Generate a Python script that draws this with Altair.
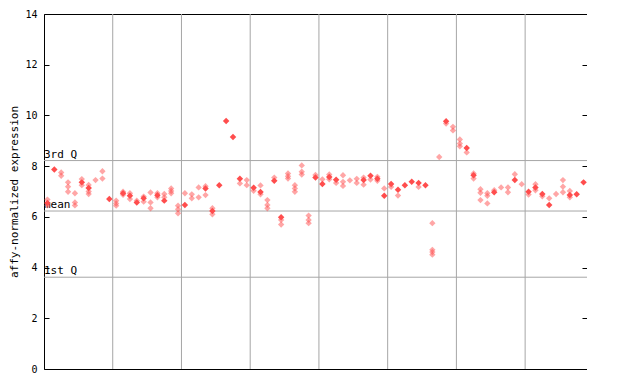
import altair as alt
import pandas as pd

# sample index (0..78) and value of the main (solid) probe
filled_index = [0, 1, 5, 6, 9, 11, 12, 13, 14, 16, 17, 20, 23, 24, 25, 26, 27, 28, 30, 31,
                33, 34, 39, 40, 41, 42, 46, 47, 48, 49, 50, 51, 52, 53, 54, 55, 58, 61, 62,
                65, 68, 70, 71, 72, 73, 76, 77, 78]
filled_value = [6.55, 7.87, 7.36, 7.14, 6.70, 6.93, 6.83, 6.57, 6.73, 6.85, 6.64, 6.47, 7.12, 6.23,
                7.25, 9.78, 9.15, 7.50, 7.15, 6.98, 7.42, 5.98, 7.55, 7.30, 7.57, 7.46, 7.45,
                7.62, 7.50, 6.83, 7.30, 7.07, 7.25, 7.38, 7.34, 7.25, 9.77, 8.72, 7.64, 6.97,
                7.45, 6.99, 7.16, 6.90, 6.47, 6.86, 6.89, 7.36]

# other probes (hatched diamonds)
hatched_index = [0, 0, 2, 2, 3, 3, 3, 4, 4, 4, 5, 5, 6, 6, 6, 7, 8, 8, 10, 10, 10, 11, 11,
                 12, 12, 13, 14, 14, 15, 15, 15, 16, 16, 17, 17, 18, 18, 18, 19, 19, 19, 20,
                 21, 21, 22, 22, 23, 23, 24, 24, 28, 29, 29, 30, 31, 31, 32, 32, 32, 33, 34,
                 34, 35, 35, 35, 36, 36, 36, 37, 37, 37, 38, 38, 38, 39, 40, 41, 41, 42, 43,
                 43, 43, 44, 45, 45, 46, 46, 47, 48, 48, 49, 50, 51, 54, 56, 56, 56, 56, 57,
                 58, 59, 59, 60, 60, 60, 61, 62, 62, 63, 63, 63, 64, 64, 64, 65, 66, 67, 67,
                 68, 69, 70, 71, 71, 72, 73, 74, 75, 75, 75, 76, 76]
hatched_value = [6.68, 6.45, 7.75, 7.62, 7.36, 7.19, 6.99, 6.93, 6.57, 6.45, 7.49, 7.25, 7.26,
                 7.00, 6.90, 7.45, 7.80, 7.51, 6.64, 6.53, 6.44, 6.99, 6.87, 6.93, 6.70, 6.64,
                 6.80, 6.60, 6.96, 6.57, 6.34, 6.93, 6.77, 6.90, 6.77, 7.12, 7.02, 6.93, 6.44,
                 6.30, 6.14, 6.93, 6.89, 6.73, 7.16, 6.77, 7.21, 6.86, 6.34, 6.10, 7.32, 7.45,
                 7.25, 7.03, 7.24, 6.89, 6.66, 6.47, 6.34, 7.55, 5.88, 5.70, 7.71, 7.60, 7.51,
                 7.25, 7.12, 6.99, 8.03, 7.78, 7.67, 6.05, 5.88, 5.75, 7.65, 7.48, 7.67, 7.48,
                 7.34, 7.64, 7.38, 7.22, 7.44, 7.50, 7.34, 7.55, 7.27, 7.47, 7.58, 7.42, 7.12,
                 7.18, 6.84, 7.18, 5.75, 4.70, 4.61, 4.51, 8.36, 9.68, 9.55, 9.41, 9.05, 8.89,
                 8.78, 8.54, 7.71, 7.51, 7.09, 6.95, 6.66, 6.93, 6.83, 6.53, 7.05, 7.16, 7.16,
                 6.97, 7.68, 7.29, 6.88, 7.29, 7.05, 6.81, 6.73, 6.90, 7.45, 7.19, 6.97, 7.02,
                 6.77]

group_breaks = [9.5, 19.5, 29.5, 39.5, 49.5, 59.5, 69.5]
ref_names = ["3rd Q", "mean", "1st Q"]
ref_values = [8.22, 6.23, 3.62]
y_ticks = [0, 2, 4, 6, 8, 10, 12, 14]
n_samples = 79

df_f = pd.DataFrame({"i": filled_index, "v": filled_value})
df_h = pd.DataFrame({"i": hatched_index, "v": hatched_value})
df_g = pd.DataFrame({"b": group_breaks})
df_r = pd.DataFrame({"name": ref_names, "v": ref_values})

MONO = "DejaVu Sans Mono"
GRID = "#a6a6a6"
RED = "#ff4d4d"

x_scale = alt.Scale(domain=[-0.5, n_samples - 0.5], nice=False, zero=False)
y_scale = alt.Scale(domain=[0, 14], nice=False, zero=False)

left_axis = alt.Axis(values=y_ticks, orient="left", offset=-5, tickSize=5, domain=False,
                     grid=False, labelPadding=7, labelFont=MONO, labelFontSize=10,
                     labelColor="black", tickColor="black", title="affy-normalized expression",
                     titleFont=MONO, titleFontSize=11, titleFontWeight="normal",
                     titleColor="black", titlePadding=5)
right_axis = alt.Axis(values=y_ticks, orient="right", offset=-5, tickSize=5, domain=False,
                      grid=False, labels=False, tickColor="black", title=None)

grid = alt.Chart(df_g).mark_rule(color=GRID, strokeWidth=1).encode(
    x=alt.X("b:Q", scale=x_scale, axis=None))

refs = alt.Chart(df_r).mark_rule(color=GRID, strokeWidth=1).encode(
    y=alt.Y("v:Q", scale=y_scale, axis=None))

ref_text = alt.Chart(df_r).mark_text(align="left", baseline="bottom", dy=-1, font=MONO,
                                     fontSize=11, color="black").encode(
    x=alt.value(0), y=alt.Y("v:Q", scale=y_scale, axis=None), text="name:N")

hatched = alt.Chart(df_h).mark_point(shape="diamond", filled=True, size=40, color=RED,
                                      opacity=0.5).encode(
    x=alt.X("i:Q", scale=x_scale, axis=None),
    y=alt.Y("v:Q", scale=y_scale, axis=right_axis))

filled = alt.Chart(df_f).mark_point(shape="diamond", filled=True, size=42, color=RED,
                                     opacity=1).encode(
    x=alt.X("i:Q", scale=x_scale, axis=None),
    y=alt.Y("v:Q", scale=y_scale, axis=left_axis))

chart = alt.layer(grid, refs, ref_text, hatched, filled).resolve_axis(
    y="independent").properties(
    width=543, height=355,
    autosize=alt.AutoSizeParams(type="none"),
    padding={"left": 36, "top": 6, "right": 0, "bottom": 10},
    background="white",
).configure_view(stroke="black", strokeWidth=1)

chart.save("out.html", embed_options={"renderer": "svg", "actions": False})
